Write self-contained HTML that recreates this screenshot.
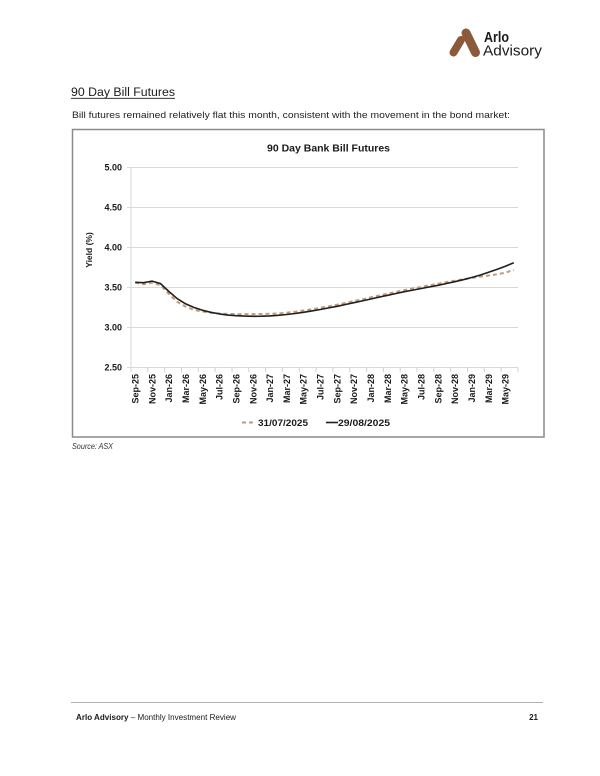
<!DOCTYPE html>
<html>
<head>
<meta charset="utf-8">
<style>
  html,body{margin:0;padding:0;background:#fff;}
  svg{display:block;}
  text{font-family:"Liberation Sans", sans-serif;}
</style>
</head>
<body>
<svg width="600" height="776" viewBox="0 0 600 776" xmlns="http://www.w3.org/2000/svg">
  <rect x="0" y="0" width="600" height="776" fill="#ffffff"/>

  <!-- Logo -->
  <g stroke="#8b5a3a" stroke-linecap="round" fill="none">
    <line x1="466" y1="33" x2="475.5" y2="52.5" stroke-width="9"/>
    <line x1="461" y1="40" x2="453.5" y2="52.5" stroke-width="8"/>
  </g>
  <text x="484" y="42" font-size="15" font-weight="bold" fill="#1a1a1a" textLength="25" lengthAdjust="spacingAndGlyphs">Arlo</text>
  <text x="483" y="55.5" font-size="15" fill="#1a1a1a" textLength="59" lengthAdjust="spacingAndGlyphs">Advisory</text>

  <!-- Heading -->
  <text x="71" y="96" font-size="12.3" fill="#1a1a1a" textLength="104" lengthAdjust="spacingAndGlyphs">90 Day Bill Futures</text>
  <line x1="71" y1="98.3" x2="175" y2="98.3" stroke="#1a1a1a" stroke-width="0.9"/>

  <!-- Body text -->
  <text x="72" y="118" font-size="9.5" fill="#222" textLength="438" lengthAdjust="spacingAndGlyphs">Bill futures remained relatively flat this month, consistent with the movement in the bond market:</text>

  <!-- Chart box -->
  <rect x="72.5" y="129.5" width="471.5" height="307.5" fill="#fff" stroke="#8a8a8a" stroke-width="1.5"/>

  <!-- Title -->
  <text x="328.5" y="151.5" font-size="10.5" font-weight="bold" fill="#1a1a1a" text-anchor="middle" textLength="123" lengthAdjust="spacingAndGlyphs">90 Day Bank Bill Futures</text>

  <!-- Gridlines -->
  <g stroke="#d9d9d9" stroke-width="1">
    <line x1="127" y1="167.5" x2="518" y2="167.5"/>
    <line x1="127" y1="207.5" x2="518" y2="207.5"/>
    <line x1="127" y1="247.5" x2="518" y2="247.5"/>
    <line x1="127" y1="287.5" x2="518" y2="287.5"/>
    <line x1="127" y1="327.5" x2="518" y2="327.5"/>
    <line x1="127" y1="367.5" x2="518" y2="367.5"/>
    <line x1="131" y1="167.5" x2="131" y2="367.5"/>
  </g>
  <!-- x ticks -->
  <g stroke="#d0d0d0" stroke-width="1">
    <line x1="131" y1="367.5" x2="131" y2="372"/>
    <line x1="147.8" y1="367.5" x2="147.8" y2="372"/>
    <line x1="164.7" y1="367.5" x2="164.7" y2="372"/>
    <line x1="181.5" y1="367.5" x2="181.5" y2="372"/>
    <line x1="198.3" y1="367.5" x2="198.3" y2="372"/>
    <line x1="215.1" y1="367.5" x2="215.1" y2="372"/>
    <line x1="232" y1="367.5" x2="232" y2="372"/>
    <line x1="248.8" y1="367.5" x2="248.8" y2="372"/>
    <line x1="265.6" y1="367.5" x2="265.6" y2="372"/>
    <line x1="282.4" y1="367.5" x2="282.4" y2="372"/>
    <line x1="299.3" y1="367.5" x2="299.3" y2="372"/>
    <line x1="316.1" y1="367.5" x2="316.1" y2="372"/>
    <line x1="332.9" y1="367.5" x2="332.9" y2="372"/>
    <line x1="349.7" y1="367.5" x2="349.7" y2="372"/>
    <line x1="366.6" y1="367.5" x2="366.6" y2="372"/>
    <line x1="383.4" y1="367.5" x2="383.4" y2="372"/>
    <line x1="400.2" y1="367.5" x2="400.2" y2="372"/>
    <line x1="417" y1="367.5" x2="417" y2="372"/>
    <line x1="433.8" y1="367.5" x2="433.8" y2="372"/>
    <line x1="450.7" y1="367.5" x2="450.7" y2="372"/>
    <line x1="467.5" y1="367.5" x2="467.5" y2="372"/>
    <line x1="484.3" y1="367.5" x2="484.3" y2="372"/>
    <line x1="501.1" y1="367.5" x2="501.1" y2="372"/>
    <line x1="518" y1="367.5" x2="518" y2="372"/>
  </g>

  <!-- Y labels -->
  <g font-size="9" font-weight="bold" fill="#1a1a1a" text-anchor="end">
    <text x="122" y="170.7">5.00</text>
    <text x="122" y="210.7">4.50</text>
    <text x="122" y="250.7">4.00</text>
    <text x="122" y="290.7">3.50</text>
    <text x="122" y="330.7">3.00</text>
    <text x="122" y="370.7">2.50</text>
  </g>
  <text transform="translate(92,250) rotate(-90)" font-size="8.5" font-weight="bold" fill="#1a1a1a" text-anchor="middle">Yield (%)</text>

  <!-- X labels -->
  <g font-size="9" font-weight="bold" fill="#1a1a1a" text-anchor="end">
    <text transform="translate(138.5,374) rotate(-90)">Sep-25</text>
    <text transform="translate(155.3,374) rotate(-90)">Nov-25</text>
    <text transform="translate(172.1,374) rotate(-90)">Jan-26</text>
    <text transform="translate(189,374) rotate(-90)">Mar-26</text>
    <text transform="translate(205.8,374) rotate(-90)">May-26</text>
    <text transform="translate(222.6,374) rotate(-90)">Jul-26</text>
    <text transform="translate(239.4,374) rotate(-90)">Sep-26</text>
    <text transform="translate(256.3,374) rotate(-90)">Nov-26</text>
    <text transform="translate(273.1,374) rotate(-90)">Jan-27</text>
    <text transform="translate(289.9,374) rotate(-90)">Mar-27</text>
    <text transform="translate(306.7,374) rotate(-90)">May-27</text>
    <text transform="translate(323.6,374) rotate(-90)">Jul-27</text>
    <text transform="translate(340.4,374) rotate(-90)">Sep-27</text>
    <text transform="translate(357.2,374) rotate(-90)">Nov-27</text>
    <text transform="translate(374,374) rotate(-90)">Jan-28</text>
    <text transform="translate(390.9,374) rotate(-90)">Mar-28</text>
    <text transform="translate(407.7,374) rotate(-90)">May-28</text>
    <text transform="translate(424.5,374) rotate(-90)">Jul-28</text>
    <text transform="translate(441.3,374) rotate(-90)">Sep-28</text>
    <text transform="translate(458.2,374) rotate(-90)">Nov-28</text>
    <text transform="translate(475,374) rotate(-90)">Jan-29</text>
    <text transform="translate(491.8,374) rotate(-90)">Mar-29</text>
    <text transform="translate(508.6,374) rotate(-90)">May-29</text>
  </g>

  <!-- Dashed series 31/07/2025 -->
  <polyline fill="none" stroke="#c39a7a" stroke-width="2" stroke-dasharray="4,3" stroke-linejoin="round"
    points="135.2,282.7 143.6,284.3 152.0,282.7 160.4,285.1 168.9,293.9 177.3,301.9 185.7,306.7 194.1,309.9 202.5,311.5 210.9,312.7 219.3,313.5 227.8,313.9 236.2,314.1 244.6,314.1 253.0,314.1 261.4,314.0 269.8,313.8 278.2,313.5 286.6,312.7 295.1,311.7 303.5,310.5 311.9,309.3 320.3,307.8 328.7,306.3 337.1,304.7 345.5,302.9 353.9,301.1 362.4,299.3 370.8,297.3 379.2,295.5 387.6,293.7 396.0,291.9 404.4,290.1 412.8,288.5 421.3,286.9 429.7,285.3 438.1,283.7 446.5,282.1 454.9,280.7 463.3,279.3 471.7,277.9 480.1,276.6 488.6,275.5 497.0,274.3 505.4,272.7 513.8,269.7"/>

  <!-- Solid series 29/08/2025 -->
  <polyline fill="none" stroke="#1f1f1f" stroke-width="1.6" stroke-linejoin="round"
    points="135.2,282.3 143.6,282.7 152.0,281.1 160.4,283.5 168.9,291.5 177.3,298.7 185.7,303.9 194.1,307.5 202.5,310.3 210.9,312.3 219.3,313.9 227.8,315.1 236.2,315.7 244.6,316.1 253.0,316.3 261.4,316.2 269.8,315.9 278.2,315.3 286.6,314.5 295.1,313.5 303.5,312.3 311.9,310.9 320.3,309.5 328.7,307.9 337.1,306.3 345.5,304.5 353.9,302.7 362.4,300.9 370.8,299.0 379.2,297.1 387.6,295.3 396.0,293.5 404.4,291.7 412.8,290.1 421.3,288.5 429.7,286.9 438.1,285.3 446.5,283.5 454.9,281.7 463.3,279.7 471.7,277.5 480.1,275.1 488.6,272.3 497.0,269.4 505.4,266.2 513.8,262.7"/>

  <!-- Legend -->
  <line x1="242" y1="422.5" x2="256" y2="422.5" stroke="#c39a7a" stroke-width="2" stroke-dasharray="4,3"/>
  <text x="258" y="426" font-size="9.5" font-weight="bold" fill="#1a1a1a" textLength="50" lengthAdjust="spacingAndGlyphs">31/07/2025</text>
  <line x1="326" y1="422.5" x2="338" y2="422.5" stroke="#1f1f1f" stroke-width="1.6"/>
  <text x="338" y="426" font-size="9.5" font-weight="bold" fill="#1a1a1a" textLength="52" lengthAdjust="spacingAndGlyphs">29/08/2025</text>

  <!-- Source -->
  <text x="72" y="449" font-size="8" font-style="italic" fill="#333" textLength="41" lengthAdjust="spacingAndGlyphs">Source: ASX</text>

  <!-- Footer -->
  <line x1="71" y1="702.5" x2="543" y2="702.5" stroke="#b0b0b0" stroke-width="1"/>
  <text x="76" y="720" font-size="8" fill="#1a1a1a" textLength="160" lengthAdjust="spacingAndGlyphs"><tspan font-weight="bold">Arlo Advisory</tspan> – Monthly Investment Review</text>
  <text x="538" y="720" font-size="8" font-weight="bold" fill="#1a1a1a" text-anchor="end">21</text>
</svg>
</body>
</html>
